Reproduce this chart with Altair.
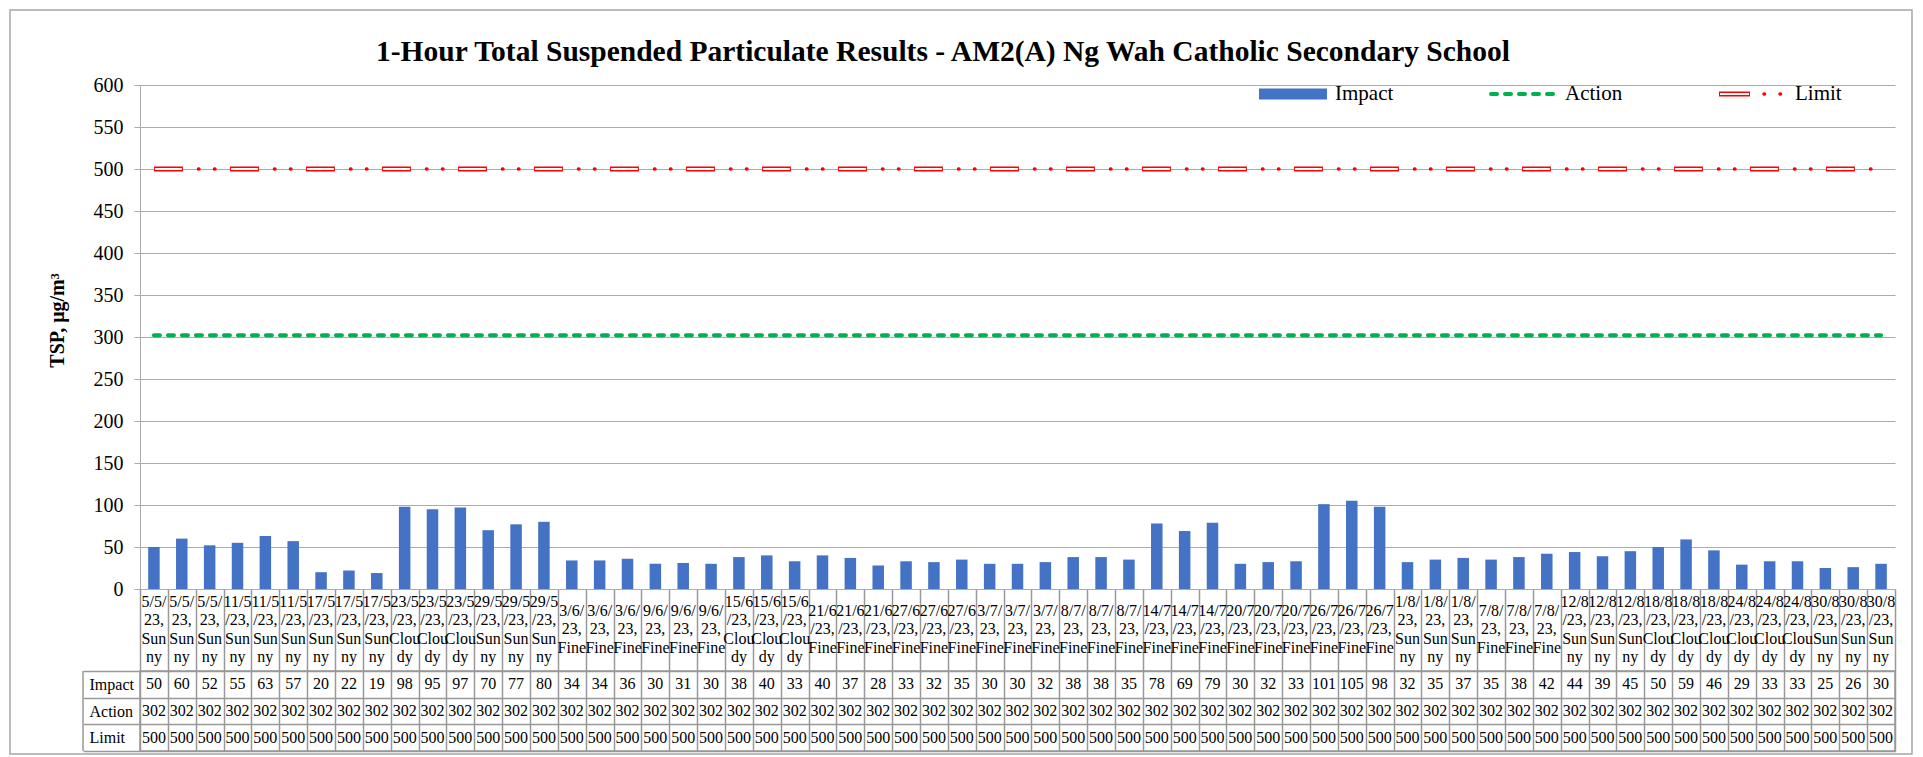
import json
import altair as alt
import pandas as pd

# ---------------- data ----------------
sample_days = ["5/5/23", "11/5/23", "17/5/23", "23/5/23", "29/5/23", "3/6/23", "9/6/23",
               "15/6/23", "21/6/23", "27/6/23", "3/7/23", "8/7/23", "14/7/23", "20/7/23",
               "26/7/23", "1/8/23", "7/8/23", "12/8/23", "18/8/23", "24/8/23", "30/8/23"]
day_weather = ["Sunny", "Sunny", "Sunny", "Cloudy", "Sunny", "Fine", "Fine",
               "Cloudy", "Fine", "Fine", "Fine", "Fine", "Fine", "Fine",
               "Fine", "Sunny", "Fine", "Sunny", "Cloudy", "Cloudy", "Sunny"]
samples_per_day = 3

impact = [50, 60, 52, 55, 63, 57, 20, 22, 19, 98, 95, 97, 70, 77, 80, 34, 34, 36, 30, 31, 30,
          38, 40, 33, 40, 37, 28, 33, 32, 35, 30, 30, 32, 38, 38, 35, 78, 69, 79, 30, 32, 33,
          101, 105, 98, 32, 35, 37, 35, 38, 42, 44, 39, 45, 50, 59, 46, 29, 33, 33, 25, 26, 30]
action_level = 302
limit_level = 500

row_names = ["Impact", "Action", "Limit"]
y_ticks = [0, 50, 100, 150, 200, 250, 300, 350, 400, 450, 500, 550, 600]

TITLE = "1-Hour Total Suspended Particulate Results - AM2(A) Ng Wah Catholic Secondary School"
Y_TITLE = "TSP, μg/m³"

# word breaking as it appears in the narrow category cells
weather_wrap = {"Sunny": ["Sun", "ny"], "Cloudy": ["Clou", "dy"], "Fine": ["Fine"]}

dates = [d for d in sample_days for _ in range(samples_per_day)]
weathers = [w for w in day_weather for _ in range(samples_per_day)]
n = len(impact)
idx = list(range(n))
action = [action_level] * n
limit = [limit_level] * n


def wrap(date, weather):
    d = date + ","
    return [d[:4], d[4:]] + weather_wrap[weather]


wrapped = [wrap(d, w) for d, w in zip(dates, weathers)]

df = pd.DataFrame({
    "idx": idx, "impact": impact, "action": action, "limit": limit,
    "lab": ["\n".join(l) for l in wrapped], "nl": [len(l) for l in wrapped],
})

tbl = pd.DataFrame({
    "idx": idx * 3,
    "row": [row_names[0]] * n + [row_names[1]] * n + [row_names[2]] * n,
    "val": impact + action + limit,
})

# ---------------- style ----------------
SERIF = "Liberation Serif"
GRID = "#ABABAB"
TGRID = "#999999"
BLUE = "#4472C4"
GREEN = "#00B050"
RED = "#FF0000"
W = 1755
H = 504
TH = 80
GAP = 82

xscale = alt.Scale(paddingInner=0, paddingOuter=0)
yscale = alt.Scale(domain=[0, 600])

xaxis = alt.Axis(title=None, labels=False, tickBand="extent", tickSize=GAP, tickColor=TGRID,
                 tickWidth=1.5, domainColor=GRID, grid=False)

yaxis = alt.Axis(values=y_ticks, grid=True, gridColor=GRID, domainColor=GRID, tickColor=GRID,
                 tickSize=6, labelFont=SERIF, labelFontSize=20, labelPadding=11, labelColor="black",
                 title=Y_TITLE, titleFont=SERIF, titleFontSize=20, titleFontWeight="bold",
                 titleX=-83, titleY=235, titleAngle=270, titleAlign="center",
                 titleBaseline="middle", titleColor="black")


def ycol(field):
    return alt.Y(field + ":Q", scale=yscale, axis=yaxis, title=Y_TITLE)


base = alt.Chart(df).encode(x=alt.X("idx:O", scale=xscale, axis=xaxis, title=None))

bars = base.mark_bar(size=11.5, color=BLUE).encode(y=ycol("impact"))
action_line = base.mark_line(color=GREEN, strokeWidth=4, strokeDash=[6, 8],
                             strokeCap="round").encode(y=ycol("action"))
limit_outer = base.mark_line(color=RED, strokeWidth=5, strokeDash=[29, 47]).encode(y=ycol("limit"))
limit_inner = base.mark_line(color="white", strokeWidth=2, strokeDash=[27, 49],
                             strokeDashOffset=75).encode(y=ycol("limit"))
limit_dots = base.mark_line(color=RED, strokeWidth=3.5, strokeDash=[0.5, 15.5, 0.5, 59.5],
                            strokeDashOffset=31.5, strokeCap="round").encode(y=ycol("limit"))

# category labels (wrapped like the narrow cells of the original), centred in the cell row
cat4 = base.transform_filter(alt.datum.nl == 4).mark_text(
    lineBreak="\n", font=SERIF, fontSize=16, lineHeight=18.3, baseline="alphabetic",
    align="center", color="black").encode(y=alt.value(H + 18), text="lab:N")
cat3 = base.transform_filter(alt.datum.nl == 3).mark_text(
    lineBreak="\n", font=SERIF, fontSize=16, lineHeight=18.3, baseline="alphabetic",
    align="center", color="black").encode(y=alt.value(H + 27), text="lab:N")

# ---------------- legend (drawn inside plot, like the original) ----------------
leg = pd.DataFrame({"label": row_names})


def leg_item(name):
    return alt.Chart(leg).transform_filter(alt.datum.label == name)


LY = 9
leg_impact_sw = leg_item("Impact").mark_rect(color=BLUE).encode(
    x=alt.value(1119), x2=alt.value(1187), y=alt.value(LY - 5.5), y2=alt.value(LY + 5.5))
leg_action_sw = leg_item("Action").mark_rule(color=GREEN, strokeWidth=4, strokeDash=[6, 8],
                                             strokeCap="round").encode(
    x=alt.value(1351), x2=alt.value(1419), y=alt.value(LY))
leg_limit_o = leg_item("Limit").mark_rule(color=RED, strokeWidth=5).encode(
    x=alt.value(1579), x2=alt.value(1610), y=alt.value(LY))
leg_limit_i = leg_item("Limit").mark_rule(color="white", strokeWidth=2).encode(
    x=alt.value(1580), x2=alt.value(1609), y=alt.value(LY))
leg_limit_d = leg_item("Limit").mark_rule(color=RED, strokeWidth=3.5, strokeDash=[0.5, 15.5],
                                          strokeCap="round").encode(
    x=alt.value(1624), x2=alt.value(1642), y=alt.value(LY))


def leg_text(name, px):
    return leg_item(name).mark_text(font=SERIF, fontSize=21, align="left", baseline="middle",
                                    color="black").encode(
        x=alt.value(px), y=alt.value(LY), text="label:N")


# ---------------- chart title ----------------
ttl = pd.DataFrame({"t": [TITLE]})
title_mark = alt.Chart(ttl).mark_text(font=SERIF, fontSize=29.5, fontWeight="bold", align="center",
                                      baseline="alphabetic", color="black").encode(
    x=alt.value(803), y=alt.value(-24), text="t:N")

top = alt.layer(
    bars, action_line, limit_outer, limit_inner, limit_dots, cat4, cat3,
    leg_impact_sw, leg_action_sw, leg_limit_o, leg_limit_i, leg_limit_d,
    leg_text("Impact", 1195), leg_text("Action", 1425), leg_text("Limit", 1655),
    title_mark,
).properties(
    width=W, height=H,
    view=alt.ViewBackground(stroke="transparent"),
)

# ---------------- data table ----------------
table_text = alt.Chart(tbl).mark_text(font=SERIF, fontSize=16, baseline="middle",
                                      color="black").encode(
    x=alt.X("idx:O", scale=xscale,
            axis=alt.Axis(grid=True, gridColor=TGRID, gridWidth=1.5, tickBand="extent",
                          labels=False, ticks=False, domain=False, title=None)),
    y=alt.Y("row:N", sort=row_names, scale=alt.Scale(paddingInner=0, paddingOuter=0),
            axis=alt.Axis(grid=True, gridColor=TGRID, gridWidth=1.5, tickBand="extent",
                          tickSize=57, tickColor=TGRID, tickWidth=1.5, labelAlign="left",
                          labelPadding=-6, labelFont=SERIF, labelFontSize=16, labelColor="black",
                          labelBaseline="middle", domain=False, title=None)),
    text="val:Q",
)

frame = pd.DataFrame({"k": [0]})
hdr_rule = alt.Chart(frame).mark_rule(color=TGRID, strokeWidth=1.5).encode(
    x=alt.value(-57), y=alt.value(0), y2=alt.value(TH))
outer_border = alt.Chart(frame).mark_rect(fillOpacity=0, stroke="#A6A6A6", strokeWidth=1.5).encode(
    x=alt.value(-130), x2=alt.value(1772), y=alt.value(-(H + GAP + 75)), y2=alt.value(TH + 3))

table = alt.layer(table_text, hdr_rule, outer_border).properties(
    width=W, height=TH,
    view=alt.ViewBackground(stroke=TGRID, strokeWidth=1.5),
)

chart = alt.vconcat(top, table, spacing=GAP, bounds="flush").properties(
    padding=0, background="white"
).configure(font=SERIF)

chart.save("out.html", embed_options={"renderer": "svg", "actions": False})
